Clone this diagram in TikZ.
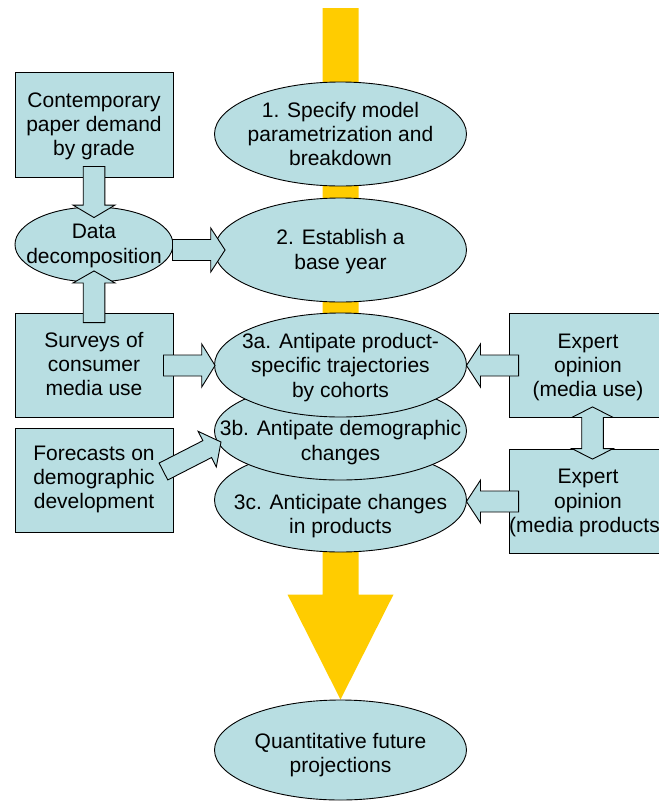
\documentclass[tikz,border=0pt]{standalone}
\usepackage{fontspec}
\setmainfont{Liberation Sans}
\usetikzlibrary{calc,shapes.geometric,backgrounds}
\definecolor{paleblue}{RGB}{184,222,226}
\definecolor{flowyellow}{RGB}{255,204,0}
\newcommand\diagfont{\fontsize{21}{24.2}\selectfont}

% Block arrow from #2 (tail) to #3 (tip):
% #4 shaft half-width, #5 head half-width, #6 head length (pt)
\newcommand\blockarrow[6][flowarrow]{%
  \path[#1] let \p1=(#2), \p2=(#3),
      \n1={atan2(\y2-\y1,\x2-\x1)}, \n2={veclen(\x2-\x1,\y2-\y1)} in
    [shift={(\p1)}, rotate=\n1]
    (0pt,#4pt) -- (\n2-#6pt,#4pt) -- (\n2-#6pt,#5pt) -- (\n2,0pt)
    -- (\n2-#6pt,-#5pt) -- (\n2-#6pt,-#4pt) -- (0pt,-#4pt) -- cycle;}

% Two-headed block arrow between tips #1 and #2
\newcommand\twowayarrow[5]{%
  \path[flowarrow] let \p1=(#1), \p2=(#2),
      \n1={atan2(\y2-\y1,\x2-\x1)}, \n2={veclen(\x2-\x1,\y2-\y1)} in
    [shift={(\p1)}, rotate=\n1]
    (0pt,0pt) -- (#5pt,#4pt) -- (#5pt,#3pt) -- (\n2-#5pt,#3pt) -- (\n2-#5pt,#4pt)
    -- (\n2,0pt) -- (\n2-#5pt,-#4pt) -- (\n2-#5pt,-#3pt) -- (#5pt,-#3pt)
    -- (#5pt,-#4pt) -- cycle;}

\begin{document}
\begin{tikzpicture}[x=1pt,y=-1pt,
  shapeline/.style={fill=paleblue, draw=black, line width=0.9pt},
  stage/.style={shapeline, ellipse, minimum width=252pt, minimum height=104pt, inner sep=0pt},
  source/.style={shapeline, rectangle, minimum width=158pt, minimum height=104pt, inner sep=0pt},
  caption/.style={align=center, inner sep=0pt, font=\diagfont,
    execute at begin node=\strut, execute at end node=\strut},
  flowarrow/.style={shapeline, line join=miter},
  mainflow/.style={fill=flowyellow, draw=none}]
\useasboundingbox (0,0) rectangle (659,801);
\clip (0,0) rectangle (659,801);

% central stages
\node[stage] (s1) at (340.5,134) {};
\node[stage] (s2) at (340.5,250) {};
\node[stage] (s3c) at (340.5,500) {};
\node[stage, minimum height=98pt] (s3b) at (340.5,431) {};
\node[stage] (s3a) at (340.5,365) {};
\node[stage, minimum height=100pt] (quant) at (340.5,750) {};

% inputs on the left
\node[source, minimum height=105pt] (paper) at (94,124.5) {};
\node[stage, minimum width=158pt, minimum height=75pt] (data) at (94,244.5) {};
\node[source] (surveys) at (94,365) {};
\node[source] (forecasts) at (94,480) {};

% expert inputs on the right
\node[source] (expuse) at (588,365) {};
\node[source] (expprod) at (588,501) {};

% main flow behind the stages
\coordinate (flowtop) at (340.5,8);
\begin{scope}[on background layer]
  \blockarrow[mainflow]{flowtop}{quant.north}{18}{53}{105}
\end{scope}

% texts
\node[caption] at ($(s1)+(0,3.7)$) {1. Specify model\\parametrization and\\breakdown};
\node[caption] at ($(s2)+(0,3)$) {2. Establish a\\base year};
\node[caption] at ($(s3a)+(0,4)$) {3a. Antipate product-\\specific trajectories\\by cohorts};
\node[caption] at ($(s3b)+(0,13)$) {3b. Antipate demographic\\changes};
\node[caption] at ($(s3c)+(0,17.3)$) {3c. Anticipate changes\\in products};
\node[caption] at ($(quant)+(0,6.6)$) {Quantitative future\\projections};
\node[caption] at ($(paper)+(0,3.2)$) {Contemporary\\paper demand\\by grade};
\node[caption] at ($(data)+(0,3)$) {Data\\decomposition};
\node[caption] at ($(surveys)+(0,2.7)$) {Surveys of\\consumer\\media use};
\node[caption] at ($(forecasts)+(0,1.1)$) {Forecasts on\\demographic\\development};
\node[caption] at ($(expuse)+(0,3.7)$) {Expert\\opinion\\(media use)};
\node[caption] at ($(expprod)+(0,3.4)$) {Expert\\opinion\\(media products)};

% connectors
\blockarrow{$(paper.south)+(0,-11)$}{$(data.north)+(0,11)$}{10.8}{21}{12.5}
\blockarrow{$(surveys.north)+(0,10)$}{$(data.south)+(0,-11.5)$}{10.8}{21}{12}
\blockarrow{$(data.east)+(-1,5.5)$}{$(s2.west)+(11,0)$}{10.5}{22}{14.3}
\blockarrow{$(surveys.east)+(-10,0.5)$}{$(s3a.west)+(1,0.5)$}{10.5}{21.5}{13.3}
\blockarrow{$(forecasts.east)+(-10,-8.5)$}{$(s3b.west)+(7,11)$}{9.5}{20}{15.5}
\blockarrow{$(expuse.west)+(10,0.5)$}{$(s3a.east)+(-0.5,0.5)$}{10.5}{21.5}{14}
\blockarrow{$(expprod.west)+(10,0.5)$}{$(s3c.east)+(-0.5,1.5)$}{10.5}{21.3}{14}
\twowayarrow{$(expuse.south)+(4.5,-10.5)$}{$(expprod.north)+(4.5,10.5)$}{10.8}{20.8}{10.5}
\end{tikzpicture}
\end{document}
